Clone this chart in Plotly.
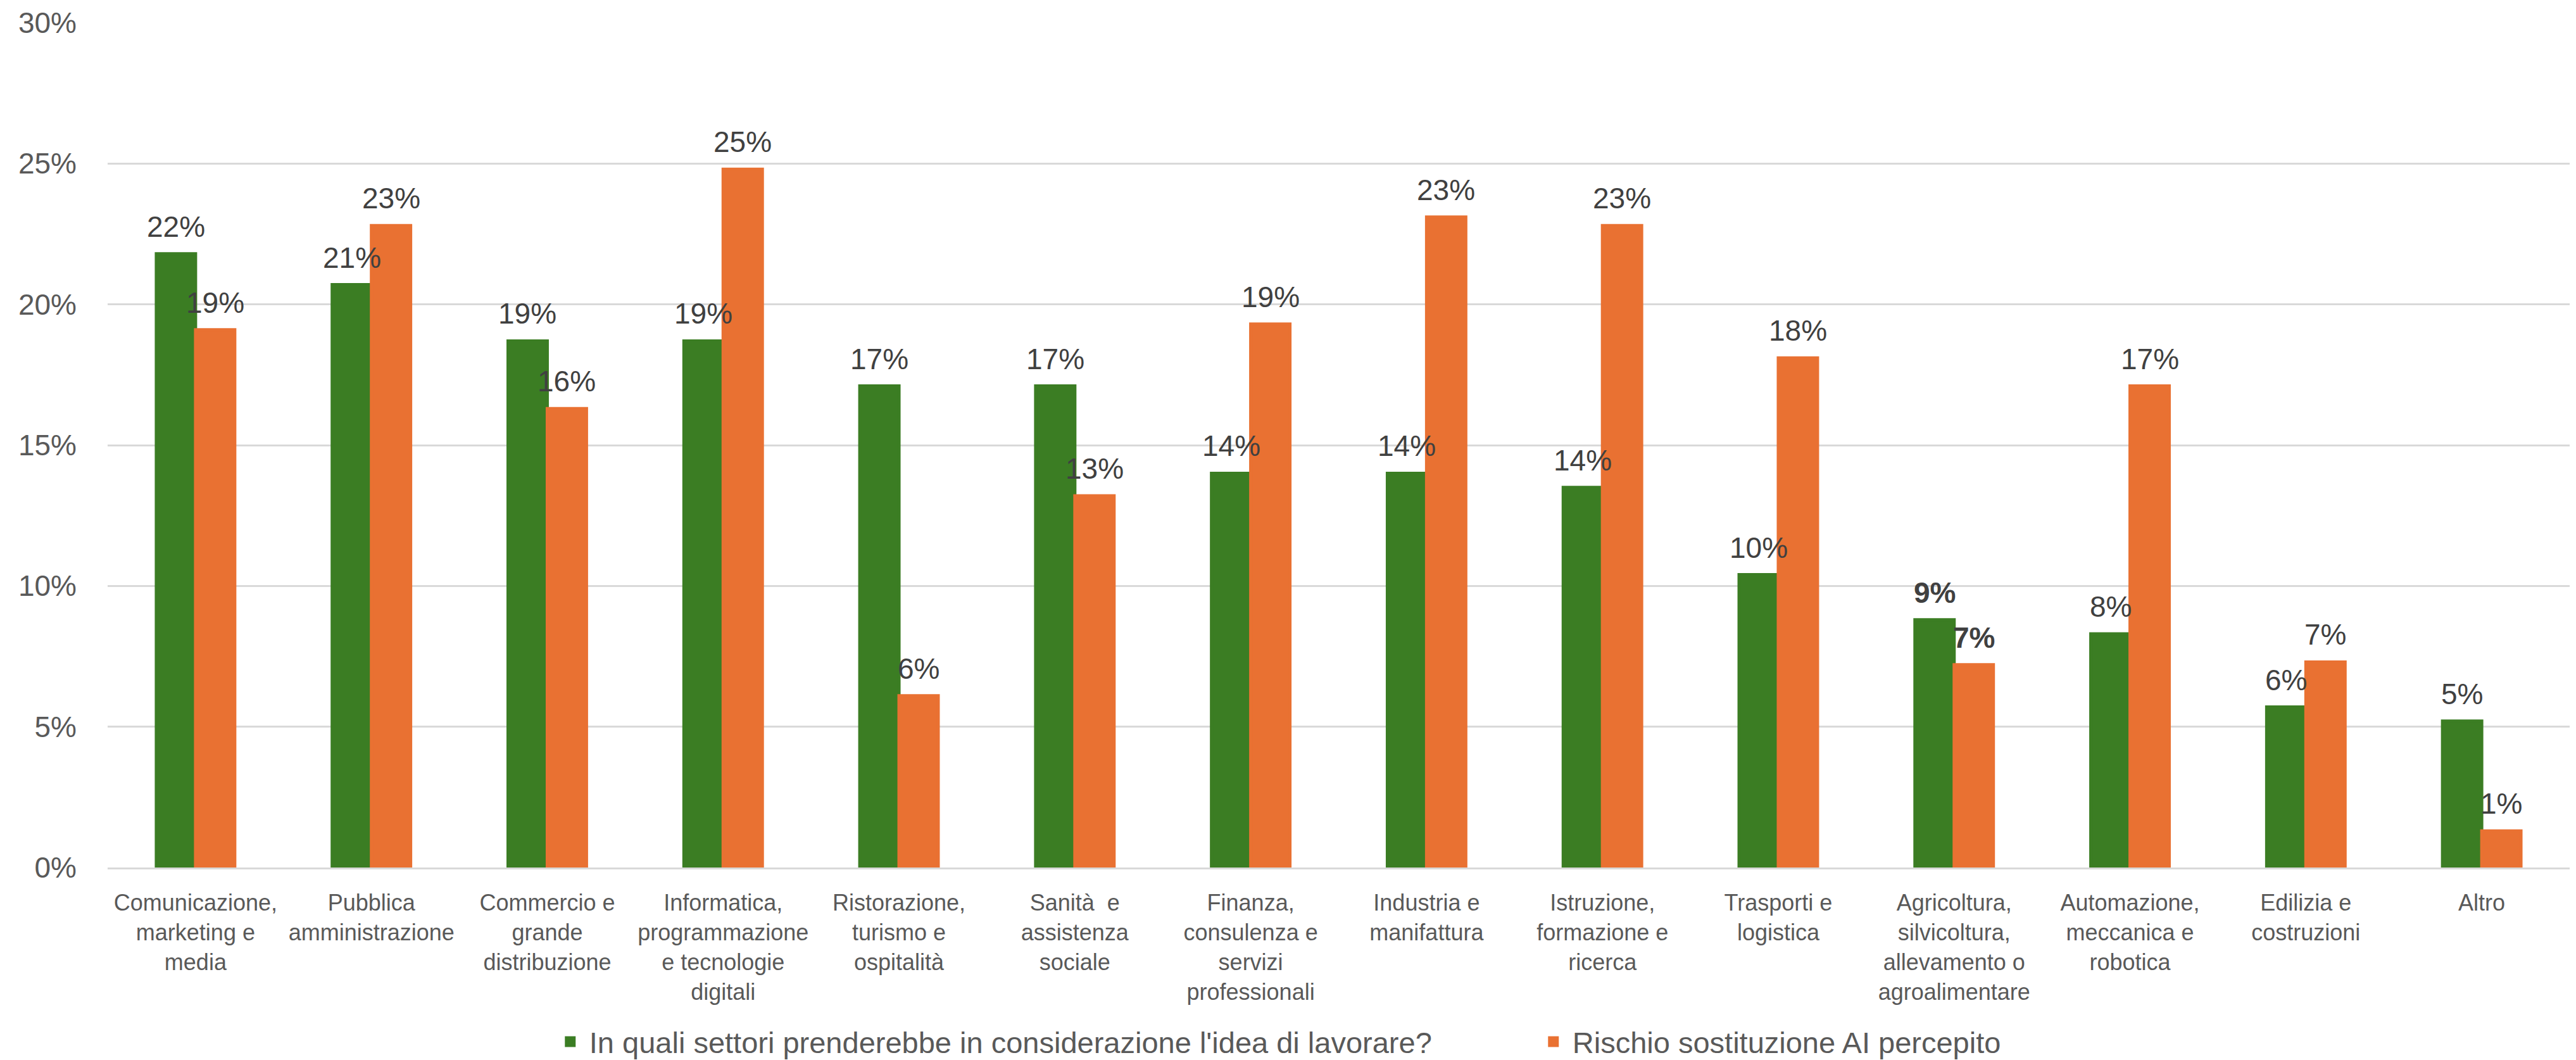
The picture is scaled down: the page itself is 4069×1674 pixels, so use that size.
import plotly.graph_objects as go

categories = [
    "Comunicazione,<br>marketing e<br>media",
    "Pubblica<br>amministrazione",
    "Commercio e<br>grande<br>distribuzione",
    "Informatica,<br>programmazione<br>e tecnologie<br>digitali",
    "Ristorazione,<br>turismo e<br>ospitalità",
    "Sanità  e<br>assistenza<br>sociale",
    "Finanza,<br>consulenza e<br>servizi<br>professionali",
    "Industria e<br>manifattura",
    "Istruzione,<br>formazione e<br>ricerca",
    "Trasporti e<br>logistica",
    "Agricoltura,<br>silvicoltura,<br>allevamento o<br>agroalimentare",
    "Automazione,<br>meccanica e<br>robotica",
    "Edilizia e<br>costruzioni",
    "Altro",
]

settori_lavoro = [0.218, 0.207, 0.187, 0.187, 0.171, 0.171, 0.140, 0.140, 0.135, 0.104, 0.088, 0.083, 0.057, 0.052]
rischio_ai = [0.191, 0.228, 0.163, 0.248, 0.061, 0.132, 0.193, 0.231, 0.228, 0.181, 0.072, 0.171, 0.073, 0.013]

series_names = [
    "In quali settori prenderebbe in considerazione l'idea di lavorare?",
    "Rischio sostituzione AI percepito",
]
bold_categories = [10]  # Agricoltura labels shown in bold

GREEN = "#3B7D23"
ORANGE = "#E97132"
FONT = "Liberation Sans, Arial, sans-serif"

W, H = 4069, 1674
ML, MR = 170, 10
BARGAP = 0.554


def label(i, v):
    s = f"{round(v * 100):d}%"
    return f"<b>{s}</b>" if i in bold_categories else s


fig = go.Figure()
series = [(series_names[0], settori_lavoro, GREEN), (series_names[1], rischio_ai, ORANGE)]
for name, vals, col in series:
    fig.add_trace(go.Bar(
        x=categories, y=vals, name=name,
        marker=dict(color=col, line=dict(width=5, color=col)),
        hoverinfo="skip",
    ))

# data labels centred above each bar of the group
cat_px = (W - ML - MR) / len(categories)
half_bar = cat_px * (1 - BARGAP) / 4
for k, (name, vals, col) in enumerate(series):
    shift = -half_bar if k == 0 else half_bar
    for i, (c, v) in enumerate(zip(categories, vals)):
        fig.add_annotation(
            x=c, y=v, xref="x", yref="y", text=label(i, v),
            showarrow=False, xanchor="center", yanchor="bottom",
            xshift=shift, yshift=15,
            font=dict(family=FONT, size=46, color="#404040"),
        )

fig.update_layout(
    width=W, height=H,
    margin=dict(l=ML, r=MR, t=31, b=304),
    paper_bgcolor="white", plot_bgcolor="white",
    barmode="group", bargap=BARGAP, bargroupgap=0,
    font=dict(family=FONT, color="#595959"),
    showlegend=True,
    legend=dict(
        orientation="h", xref="container", yref="container",
        x=0.214, xanchor="left", y=0.017, yanchor="middle",
        font=dict(family=FONT, size=47, color="#595959"),
        itemwidth=50, traceorder="normal",
        entrywidth=1488, entrywidthmode="pixels",
    ),
)
fig.update_yaxes(
    range=[0, 0.30], dtick=0.05, tickformat=".0%",
    showgrid=True, gridcolor="#D9D9D9", gridwidth=3,
    zeroline=False, showline=False,
    tickfont=dict(family=FONT, size=46, color="#595959"),
    ticklabelstandoff=48,
)
fig.update_xaxes(
    showline=True, linecolor="#D9D9D9", linewidth=3,
    showgrid=False, ticks="",
    tickfont=dict(family=FONT, size=36, color="#595959"),
    ticklabelstandoff=22, tickangle=0,
)

fig.write_html("out.html")
